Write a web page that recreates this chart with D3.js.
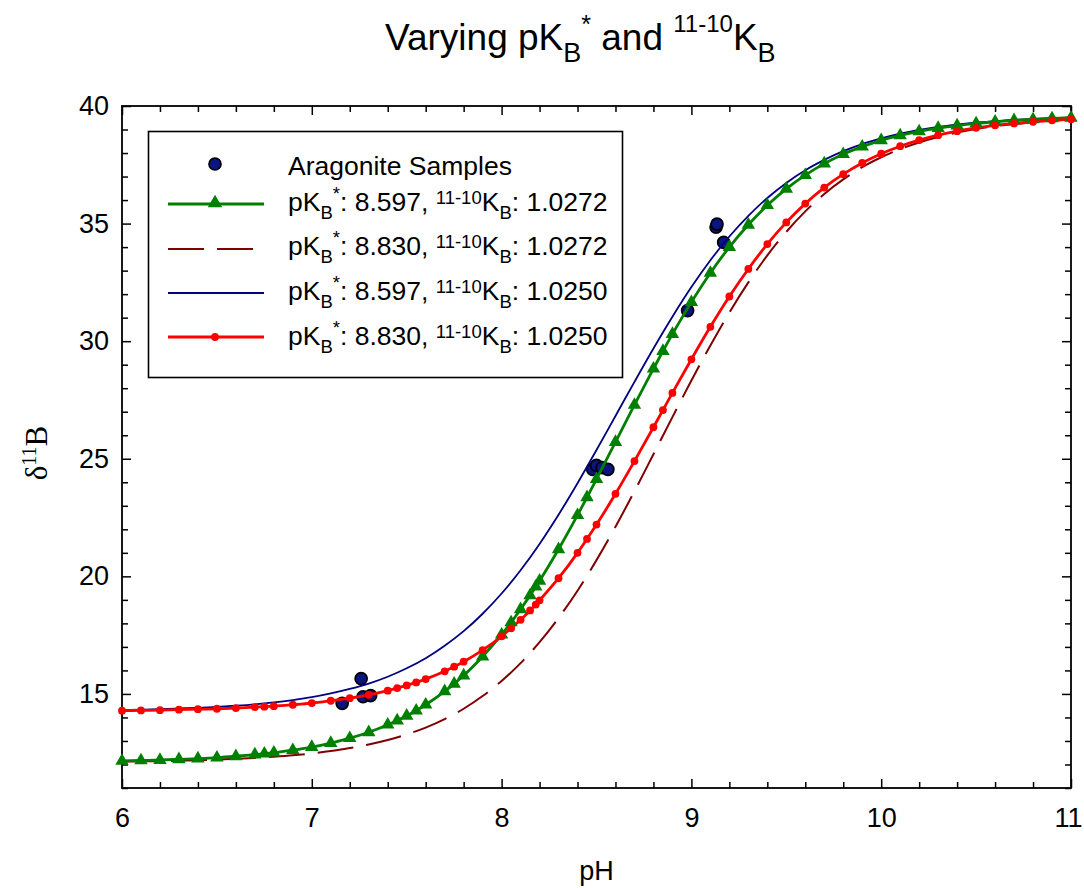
<!DOCTYPE html>
<html><head><meta charset="utf-8">
<script src="https://cdn.jsdelivr.net/npm/d3@7"></script>
<style>
body{margin:0;background:#fff}
svg{display:block}
text{font-family:Arial,"Liberation Sans",sans-serif;fill:#000}
</style>
</head><body>
<svg id="chart" width="1084" height="888"></svg>
<script>
// ---------- data ----------
const markerPH = [6.0,6.1,6.2,6.3,6.4,6.5,6.6,6.7,6.75,6.8,6.9,7.0,7.1,7.2,7.3,7.4,7.45,7.5,7.55,7.6,7.7,7.75,7.8,7.9,8.0,8.05,8.1,8.15,8.18,8.2,8.3,8.4,8.45,8.5,8.6,8.7,8.8,8.85,8.9,9.0,9.1,9.2,9.3,9.4,9.5,9.6,9.7,9.8,9.9,10.0,10.1,10.2,10.3,10.4,10.5,10.6,10.7,10.8,10.9,11.0];
// pKB* 8.597, 11-10KB 1.0272 (green, triangles)
const greenVals = [12.15,12.17,12.19,12.22,12.25,12.29,12.35,12.42,12.46,12.50,12.61,12.74,12.91,13.12,13.37,13.69,13.87,14.07,14.29,14.54,15.11,15.43,15.78,16.59,17.52,18.04,18.60,19.19,19.56,19.81,21.15,22.60,23.36,24.13,25.71,27.29,28.83,29.58,30.30,31.66,32.90,34.00,34.95,35.78,36.48,37.06,37.55,37.95,38.27,38.54,38.75,38.92,39.06,39.17,39.26,39.33,39.39,39.43,39.47,39.50];
// pKB* 8.830, 11-10KB 1.0250 (red, dots)
const redVals = [14.29,14.30,14.31,14.33,14.35,14.37,14.40,14.44,14.46,14.48,14.54,14.61,14.71,14.82,14.96,15.14,15.25,15.36,15.49,15.63,15.96,16.16,16.37,16.86,17.45,17.79,18.15,18.55,18.80,18.98,19.92,21.00,21.59,22.20,23.51,24.90,26.34,27.07,27.80,29.23,30.61,31.90,33.07,34.13,35.05,35.85,36.53,37.10,37.58,37.97,38.29,38.55,38.76,38.93,39.07,39.18,39.26,39.33,39.39,39.44];

const gridPH = [6.0,6.1,6.2,6.3,6.4,6.5,6.6,6.7,6.8,6.9,7.0,7.1,7.2,7.3,7.4,7.5,7.6,7.7,7.8,7.9,8.0,8.1,8.2,8.3,8.4,8.5,8.6,8.7,8.8,8.9,9.0,9.1,9.2,9.3,9.4,9.5,9.6,9.7,9.8,9.9,10.0,10.1,10.2,10.3,10.4,10.5,10.6,10.7,10.8,10.9,11.0];
// pKB* 8.597, 11-10KB 1.0250 (blue solid)
const blueVals = [14.32,14.33,14.35,14.38,14.41,14.45,14.50,14.56,14.64,14.74,14.86,15.02,15.21,15.44,15.73,16.09,16.52,17.05,17.67,18.41,19.27,20.26,21.38,22.62,23.96,25.37,26.82,28.27,29.69,31.04,32.30,33.44,34.45,35.33,36.09,36.73,37.27,37.71,38.08,38.38,38.62,38.82,38.98,39.11,39.21,39.29,39.36,39.41,39.45,39.48,39.51];
// pKB* 8.830, 11-10KB 1.0272 (dark red dashed)
const dashVals = [12.12,12.13,12.14,12.16,12.18,12.21,12.24,12.28,12.33,12.39,12.47,12.57,12.70,12.85,13.04,13.28,13.57,13.93,14.37,14.91,15.55,16.31,17.20,18.23,19.39,20.69,22.11,23.62,25.19,26.77,28.33,29.82,31.22,32.50,33.65,34.65,35.52,36.26,36.88,37.40,37.82,38.17,38.45,38.68,38.87,39.02,39.14,39.23,39.31,39.37,39.42];

// Aragonite samples
const samplePH   = [7.16,7.26,7.27,7.31,8.48,8.50,8.53,8.56,8.98,9.13,9.135,9.17];
const sampleD11B = [14.60,15.65,14.88,14.93,24.55,24.72,24.62,24.55,31.30,34.85,34.98,34.20];

const xTicks = [6,7,8,9,10,11];
const yTicks = [15,20,25,30,35,40];
const legendPK = ["8.597","8.830","8.597","8.830"];
const legendK  = ["1.0272","1.0272","1.0250","1.0250"];

// ---------- layout ----------
const svg = d3.select('#chart');
const L = 122, R = 1071, T = 106, B = 788;
const x = d3.scaleLinear().domain([6, 11]).range([L, R]);
const y = d3.scaleLinear().domain([11, 40]).range([B, T]);

// ---------- axes ----------
const xMinor = d3.range(6, 11.0001, 0.2).filter(v => Math.abs(v - Math.round(v)) > 1e-6);
const yMinor = d3.range(11, 40.0001, 1).filter(v => v % 5 !== 0);

function styleAxis(g){
  g.select('.domain').remove();
  g.selectAll('.tick line').attr('stroke','#000').attr('stroke-width',1.5);
  g.selectAll('.tick text').style('font-size','27px').style('font-family','Arial,"Liberation Sans",sans-serif').attr('fill','#000');
}
// bottom
const gxb = svg.append('g').attr('transform',`translate(0,${B})`)
  .call(d3.axisBottom(x).tickValues(xTicks).tickSize(-9).tickPadding(20).tickFormat(d3.format('d'))).call(styleAxis);
gxb.selectAll('.tick text').filter(d => d === 11).attr('dx', -3);
svg.append('g').attr('transform',`translate(0,${B})`)
  .call(d3.axisBottom(x).tickValues(xMinor).tickSize(-6).tickFormat('')).call(styleAxis);
// top
svg.append('g').attr('transform',`translate(0,${T})`)
  .call(d3.axisTop(x).tickValues(xTicks).tickSize(-9).tickFormat('')).call(styleAxis);
svg.append('g').attr('transform',`translate(0,${T})`)
  .call(d3.axisTop(x).tickValues(xMinor).tickSize(-6).tickFormat('')).call(styleAxis);
// left
svg.append('g').attr('transform',`translate(${L},0)`)
  .call(d3.axisLeft(y).tickValues(yTicks).tickSize(-9).tickPadding(13).tickFormat(d3.format('d'))).call(styleAxis);
svg.append('g').attr('transform',`translate(${L},0)`)
  .call(d3.axisLeft(y).tickValues(yMinor).tickSize(-6).tickFormat('')).call(styleAxis);
// right
svg.append('g').attr('transform',`translate(${R},0)`)
  .call(d3.axisRight(y).tickValues(yTicks).tickSize(-9).tickFormat('')).call(styleAxis);
svg.append('g').attr('transform',`translate(${R},0)`)
  .call(d3.axisRight(y).tickValues(yMinor).tickSize(-6).tickFormat('')).call(styleAxis);

svg.append('rect').attr('x',L).attr('y',T).attr('width',R-L).attr('height',B-T)
  .attr('fill','none').attr('stroke','#000').attr('stroke-width',1.8);

// ---------- samples ----------
const samples = samplePH.map((p,i)=>({p, v: sampleD11B[i]}));
svg.append('g').selectAll('circle').data(samples).join('circle')
  .attr('cx', d=>x(d.p)).attr('cy', d=>y(d.v)).attr('r',6)
  .attr('fill','#0a1580').attr('stroke','#000').attr('stroke-width',1.7);

// ---------- curves ----------
const line = d3.line().x(d=>x(d[0])).y(d=>y(d[1])).curve(d3.curveMonotoneX);
const greenData = markerPH.map((p,i)=>[p, greenVals[i]]);
const redData = markerPH.map((p,i)=>[p, redVals[i]]);
const blueData = gridPH.map((p,i)=>[p, blueVals[i]]);
const dashData = gridPH.map((p,i)=>[p, dashVals[i]]);

svg.append('path').datum(dashData).attr('d',line).attr('fill','none')
  .attr('stroke','#800000').attr('stroke-width',2).attr('stroke-dasharray','36,13');
svg.append('path').datum(blueData).attr('d',line).attr('fill','none')
  .attr('stroke','#000080').attr('stroke-width',1.8);
svg.append('path').datum(greenData).attr('d',line).attr('fill','none')
  .attr('stroke','#008000').attr('stroke-width',2.8);
svg.append('path').datum(redData).attr('d',line).attr('fill','none')
  .attr('stroke','#ff0000').attr('stroke-width',2.8);

const tri = d3.symbol().type(d3.symbolTriangle).size(78);
svg.append('g').selectAll('path').data(greenData).join('path')
  .attr('d', tri).attr('transform', d=>`translate(${x(d[0])},${y(d[1])})`)
  .attr('fill','#008000');
svg.append('g').selectAll('circle').data(redData).join('circle')
  .attr('cx', d=>x(d[0])).attr('cy', d=>y(d[1])).attr('r',3.9).attr('fill','#ff0000');

// ---------- legend ----------
const lg = svg.append('g');
lg.append('rect').attr('x',148.5).attr('y',131.5).attr('width',474).attr('height',246)
  .attr('fill','#fff').attr('stroke','#000').attr('stroke-width',1.6);
const lx0 = 168, lx1 = 264, lxm = 215, ltx = 288;
// row 0 - samples
lg.append('circle').attr('cx',lxm).attr('cy',164).attr('r',6)
  .attr('fill','#0a1580').attr('stroke','#000').attr('stroke-width',1.7);
lg.append('text').attr('x',ltx).attr('y',175).style('font-size','26.5px').text('Aragonite Samples');

const rows = [
  {sy:204, by:211, color:'#008000', w:2.8, dash:null, marker:'tri'},
  {sy:249, by:255, color:'#800000', w:2, dash:'36,13', marker:null},
  {sy:293, by:300, color:'#000080', w:1.8, dash:null, marker:null},
  {sy:337, by:345, color:'#ff0000', w:2.8, dash:null, marker:'dot'}
];
rows.forEach((r,i)=>{
  lg.append('line').attr('x1',lx0).attr('x2',lx1).attr('y1',r.sy).attr('y2',r.sy)
    .attr('stroke',r.color).attr('stroke-width',r.w).attr('stroke-dasharray',r.dash);
  if(r.marker==='tri') lg.append('path').attr('d',d3.symbol().type(d3.symbolTriangle).size(90)())
    .attr('transform',`translate(${lxm},${r.sy-1})`).attr('fill',r.color);
  if(r.marker==='dot') lg.append('circle').attr('cx',lxm).attr('cy',r.sy).attr('r',3.9).attr('fill',r.color);
  const t = lg.append('text').attr('x',ltx).attr('y',r.by).style('font-size','26.5px');
  t.append('tspan').text('pK');
  t.append('tspan').attr('y',r.by+8).style('font-size','18.5px').text('B');
  t.append('tspan').attr('y',r.by-11).style('font-size','18.5px').text('*');
  t.append('tspan').attr('y',r.by).text(': ' + legendPK[i] + ', ');
  t.append('tspan').attr('y',r.by-7).style('font-size','18.5px').text('11-10');
  t.append('tspan').attr('y',r.by).text('K');
  t.append('tspan').attr('y',r.by+8).style('font-size','18.5px').text('B');
  t.append('tspan').attr('y',r.by).text(': ' + legendK[i]);
});

// ---------- title ----------
const tt = svg.append('text').attr('x',385).attr('y',50).style('font-size','37px');
tt.append('tspan').text('Varying pK');
tt.append('tspan').attr('y',62).style('font-size','27px').text('B');
tt.append('tspan').attr('y',33).style('font-size','25px').text('*');
tt.append('tspan').attr('y',50).text(' and ');
tt.append('tspan').attr('y',32).style('font-size','24px').text('11-10');
tt.append('tspan').attr('y',50).text('K');
tt.append('tspan').attr('y',62).style('font-size','27px').text('B');

// ---------- axis titles ----------
svg.append('text').attr('x',(L+R)/2).attr('y',880).attr('text-anchor','middle')
  .style('font-size','27px').text('pH');
const yl = svg.append('text').attr('transform','translate(47,453) rotate(-90)')
  .attr('text-anchor','middle').style('font-family','"Times New Roman","Liberation Serif",serif').style('font-size','31px');
yl.append('tspan').text('δ');
yl.append('tspan').attr('dy',-11).style('font-size','20px').text('11');
yl.append('tspan').attr('dy',11).text('B');
</script>
</body></html>
